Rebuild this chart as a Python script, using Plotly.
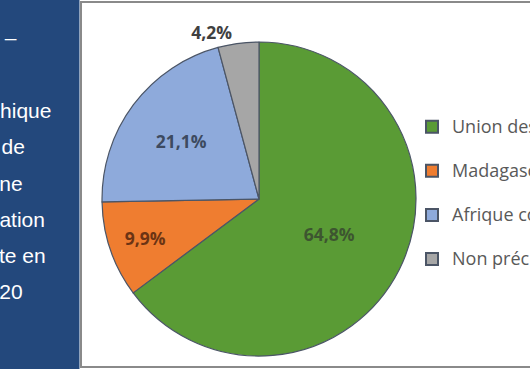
import plotly.graph_objects as go

labels = ["Union des Comores", "Madagascar", "Afrique continentale", "Non précisé"]
values = [64.8, 9.9, 21.1, 4.2]
slice_colors = ["#5a9b35", "#ef7d30", "#8eaadb", "#a6a6a6"]
label_colors = ["#3d5530", "#6b3414", "#3d4a60", "#404040"]
text_positions = ["inside", "inside", "inside", "outside"]
side_lines = ["Figure 3 –", "géographique", "lieu de", "d'origine", "population", "résidente en", "2020"]
side_line_y = [37, 111, 147, 183, 219, 255, 291]
side_line_end = [19, 53, 27, 25, 47, 48, 25]

W, H = 530, 369

fig = go.Figure(go.Pie(
    labels=["<span style='font-size:18px'>" + l + "</span><br> " for l in labels],
    values=values,
    sort=False,
    direction="clockwise",
    rotation=0,
    marker=dict(colors=slice_colors, line=dict(color="#4b5566", width=1.2)),
    texttemplate="%{percent:.1%}",
    textposition=text_positions,
    insidetextorientation="horizontal",
    textfont=dict(family="Open Sans", size=17.5, color=label_colors, weight="bold"),
    domain=dict(x=[102 / W, 416 / W], y=[(H - 357) / H, (H - 41) / H]),
    hoverinfo="skip",
))

shapes = [
    dict(type="rect", xref="paper", yref="paper", x0=0, x1=79.5 / W, y0=0, y1=1,
         fillcolor="#23487c", line=dict(width=0), layer="below"),
    dict(type="rect", xref="paper", yref="paper", x0=81 / W, x1=1.02, y0=(H - 367) / H, y1=(H - 2) / H,
         fillcolor="rgba(0,0,0,0)", line=dict(color="#8a8a8a", width=2)),
]

annotations = []
for txt, yy, xe in zip(side_lines, side_line_y, side_line_end):
    annotations.append(dict(text=txt, xref="paper", yref="paper", x=xe / W, y=(H - yy) / H,
                            xanchor="right", yanchor="middle", showarrow=False,
                            font=dict(family="Liberation Sans", size=21, color="white")))

fig.update_layout(
    width=W, height=H,
    margin=dict(l=0, r=0, t=0, b=0, autoexpand=False),
    paper_bgcolor="white",
    plot_bgcolor="white",
    separators=", ",
    shapes=shapes,
    annotations=annotations,
    showlegend=True,
    legend=dict(x=412 / W, y=(H - 110) / H, xanchor="left", yanchor="top",
                font=dict(family="Open Sans", size=15.8, color="#595959"),
                valign="top", itemsizing="constant", bgcolor="rgba(0,0,0,0)"),
)

fig.write_html("out.html")
